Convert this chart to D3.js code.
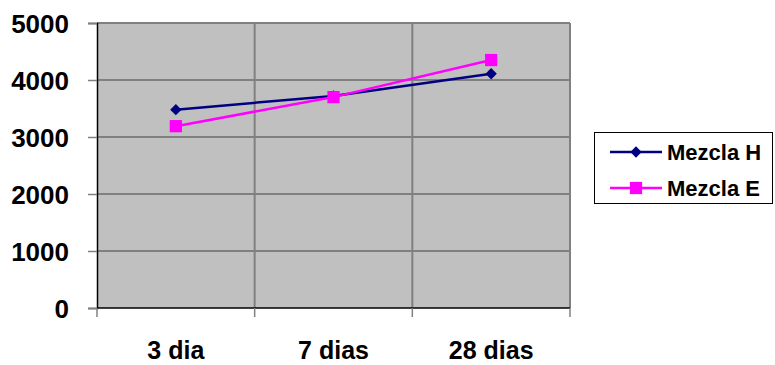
<!DOCTYPE html>
<html>
<head>
<meta charset="utf-8">
<script src="https://cdn.jsdelivr.net/npm/d3@7"></script>
<style>
  html, body { margin: 0; padding: 0; background: #fff; }
  svg { display: block; font-family: "Liberation Sans", Arial, sans-serif; }
</style>
</head>
<body>
<svg id="chart" width="775" height="365"></svg>
<script>
// Ages at which the mixes were tested
const categories = ["3 dia", "7 dias", "28 dias"];
// Resistance values for each mix
const mezclaH = [3480, 3720, 4110];
const mezclaE = [3190, 3700, 4350];
const seriesNames = ["Mezcla H", "Mezcla E"];
const yTicks = [0, 1000, 2000, 3000, 4000, 5000];

const svg = d3.select("#chart");
const plot = { left: 97, right: 570, top: 23, bottom: 308 };

const x = d3.scaleBand().domain(categories).range([plot.left, plot.right]);
const y = d3.scaleLinear().domain([0, 5000]).range([plot.bottom, plot.top]);
const cx = d => x(d) + x.bandwidth() / 2;

// plot background
svg.append("rect")
  .attr("x", plot.left).attr("y", plot.top)
  .attr("width", plot.right - plot.left).attr("height", plot.bottom - plot.top)
  .attr("fill", "#c0c0c0");

// horizontal gridlines
svg.append("g").selectAll("line").data(yTicks.filter(t => t > 0)).join("line")
  .attr("x1", plot.left).attr("x2", plot.right)
  .attr("y1", d => y(d)).attr("y2", d => y(d))
  .attr("stroke", "#808080").attr("stroke-width", 2);

// vertical gridlines at category boundaries
const bounds = categories.slice(1).map(c => x(c)).concat([plot.right]);
svg.append("g").selectAll("line").data(bounds).join("line")
  .attr("x1", d => d).attr("x2", d => d)
  .attr("y1", plot.top).attr("y2", plot.bottom)
  .attr("stroke", "#808080").attr("stroke-width", 2);

// y axis
const yAxis = svg.append("g")
  .attr("transform", `translate(${plot.left},0)`)
  .call(d3.axisLeft(y).tickValues(yTicks).tickSize(9).tickPadding(19).tickFormat(d3.format("d")));
yAxis.select(".domain").attr("stroke", "#000").attr("stroke-width", 1.5);
yAxis.selectAll(".tick line").attr("stroke", "#808080").attr("stroke-width", 1.5);
yAxis.selectAll(".tick text")
  .attr("font-family", "Liberation Sans, Arial, sans-serif")
  .attr("font-size", 26).attr("font-weight", "bold").attr("fill", "#000")
  .attr("dy", "0.36em");

// x axis: ticks at band boundaries, labels centered on bands
const xAxisG = svg.append("g").attr("transform", `translate(0,${plot.bottom})`);
xAxisG.append("line")
  .attr("x1", plot.left).attr("x2", plot.right)
  .attr("stroke", "#000").attr("stroke-width", 1.5);
xAxisG.selectAll("line.tk").data([plot.left].concat(bounds)).join("line")
  .attr("class", "tk")
  .attr("x1", d => d).attr("x2", d => d).attr("y1", 0).attr("y2", 9)
  .attr("stroke", "#808080").attr("stroke-width", 1.5);
xAxisG.selectAll("text").data(categories).join("text")
  .attr("x", d => cx(d)).attr("y", 51)
  .attr("text-anchor", "middle")
  .attr("font-size", 25).attr("font-weight", "bold").attr("fill", "#000")
  .text(d => d);

// series: diamonds are squares turned by 45 degrees
const line = d3.line().x((d, i) => cx(categories[i])).y(d => y(d));
const series = [
  { name: seriesNames[0], values: mezclaH, color: "#000080", size: 64, rotate: 45 },
  { name: seriesNames[1], values: mezclaE, color: "#ff00ff", size: 150, rotate: 0 }
];
const marker = s => d3.symbol().type(d3.symbolSquare).size(s.size)();

series.forEach(s => {
  svg.append("path").datum(s.values)
    .attr("d", line).attr("fill", "none")
    .attr("stroke", s.color).attr("stroke-width", 2.5);
  svg.append("g").selectAll("path").data(s.values).join("path")
    .attr("transform", (d, i) => `translate(${cx(categories[i])},${y(d)}) rotate(${s.rotate})`)
    .attr("d", marker(s))
    .attr("fill", s.color);
});

// legend
const legend = svg.append("g");
legend.append("rect")
  .attr("x", 594.5).attr("y", 132.5).attr("width", 178).attr("height", 71)
  .attr("fill", "#fff").attr("stroke", "#000").attr("stroke-width", 1);
series.forEach((s, i) => {
  const ly = 152 + i * 36;
  legend.append("line")
    .attr("x1", 610).attr("x2", 662).attr("y1", ly).attr("y2", ly)
    .attr("stroke", s.color).attr("stroke-width", 2.5);
  legend.append("path")
    .attr("transform", `translate(636,${ly}) rotate(${s.rotate})`)
    .attr("d", marker(s))
    .attr("fill", s.color);
  legend.append("text")
    .attr("x", 667).attr("y", ly).attr("dy", "0.36em")
    .attr("font-size", 22).attr("font-weight", "bold").attr("fill", "#000")
    .text(s.name);
});
</script>
</body>
</html>
